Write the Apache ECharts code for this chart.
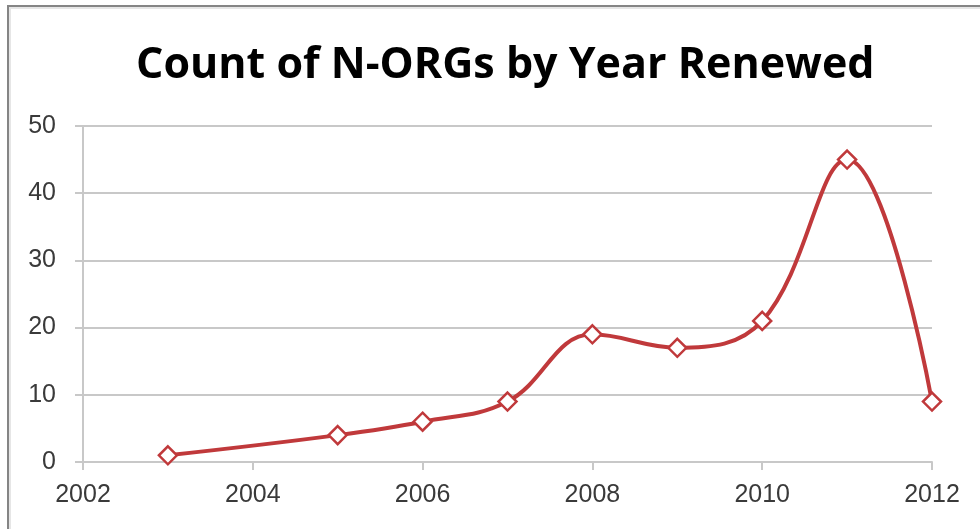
<!DOCTYPE html>
<html>
<head>
<meta charset="utf-8">
<script src="https://cdn.jsdelivr.net/npm/echarts@6/dist/echarts.min.js"></script>
<style>
html,body{margin:0;padding:0;background:#fff;}
#frame{position:absolute;left:7px;top:5px;width:973px;height:524px;border-top:2px solid #858585;border-left:2px solid #858585;box-shadow:inset 2px 2px 0 #e6e6e6;}
#chart{position:absolute;left:0;top:0;width:980px;height:529px;}
</style>
</head>
<body>
<div id="frame"></div>
<div id="chart"></div>
<script>
var title = 'Count of N-ORGs by Year Renewed';
var years = [2003, 2005, 2006, 2007, 2008, 2009, 2010, 2011, 2012];
var counts = [1, 4, 6, 9, 19, 17, 21, 45, 9];
var xTicks = [2002, 2004, 2006, 2008, 2010, 2012];
var yTicks = [0, 10, 20, 30, 40, 50];

var chart = echarts.init(document.getElementById('chart'), null, {renderer: 'canvas'});
chart.setOption({
  animation: false,
  backgroundColor: 'transparent',
  title: {
    text: title,
    left: 131,
    top: 39,
    textStyle: {fontFamily: 'Open Sans', fontWeight: 'bold', fontSize: 43, color: '#000'}
  },
  grid: {left: 83, right: 48, top: 126, bottom: 67, containLabel: false},
  xAxis: {
    type: 'value',
    min: xTicks[0],
    max: xTicks[xTicks.length - 1],
    interval: 2,
    axisLine: {show: true, lineStyle: {color: '#c8c8c8', width: 2}},
    axisTick: {show: true, length: 8, lineStyle: {color: '#c8c8c8', width: 2}},
    splitLine: {show: false},
    axisLabel: {margin: 21, fontFamily: 'Liberation Sans', fontSize: 25, color: '#3a3a3a',
      formatter: function (v) { return String(v); }}
  },
  yAxis: {
    type: 'value',
    min: yTicks[0],
    max: yTicks[yTicks.length - 1],
    interval: 10,
    axisLine: {show: true, lineStyle: {color: '#c8c8c8', width: 2}},
    axisTick: {show: true, length: 8, lineStyle: {color: '#c8c8c8', width: 2}},
    splitLine: {show: true, lineStyle: {color: '#c8c8c8', width: 2}},
    axisLabel: {margin: 27, fontFamily: 'Liberation Sans', fontSize: 25, color: '#3a3a3a'}
  },
  series: [{
    type: 'line',
    data: years.map(function (y, i) { return [y, counts[i]]; }),
    smooth: 0.4,
    symbol: 'diamond',
    symbolSize: 18,
    lineStyle: {color: '#c0393b', width: 4},
    itemStyle: {color: '#fff', borderColor: '#c0393b', borderWidth: 2.5}
  }]
});
</script>
</body>
</html>
